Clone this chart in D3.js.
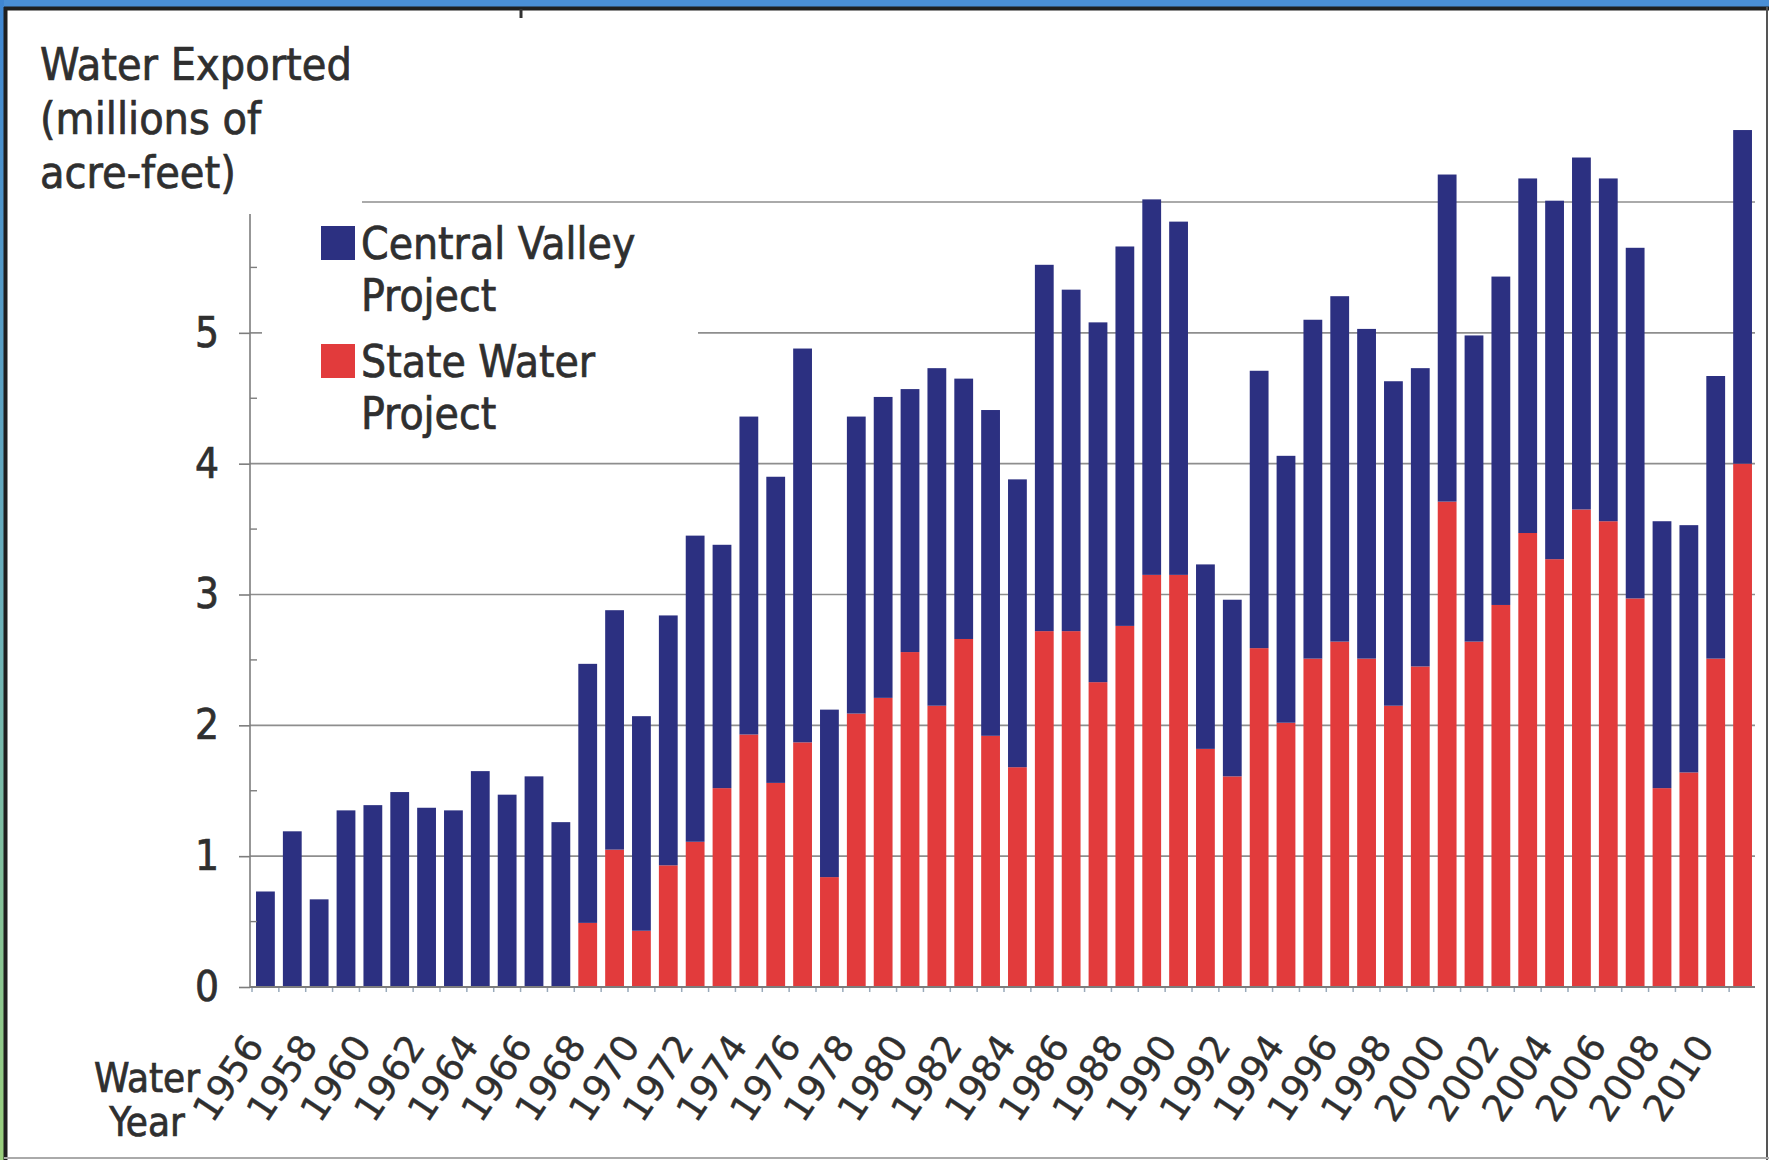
<!DOCTYPE html>
<html>
<head>
<meta charset="utf-8">
<script src="https://cdn.jsdelivr.net/npm/d3@7"></script>
<style>
  html, body { margin: 0; padding: 0; background: #fff; }
  svg { display: block; }
  text { font-family: "DejaVu Sans Condensed", "DejaVu Sans", sans-serif; fill: #2f2f2f; stroke: #2f2f2f; stroke-width: 0.7px; }
</style>
</head>
<body>
<svg id="chart"></svg>
<script>
// water years shown on the x axis
const years = [1956, 1957, 1958, 1959, 1960, 1961, 1962, 1963, 1964, 1965,
  1966, 1967, 1968, 1969, 1970, 1971, 1972, 1973, 1974, 1975,
  1976, 1977, 1978, 1979, 1980, 1981, 1982, 1983, 1984, 1985,
  1986, 1987, 1988, 1989, 1990, 1991, 1992, 1993, 1994, 1995,
  1996, 1997, 1998, 1999, 2000, 2001, 2002, 2003, 2004, 2005,
  2006, 2007, 2008, 2009, 2010, 2011];

// Central Valley Project exports (millions of acre-feet)
const cvpValues = [0.73, 1.19, 0.67, 1.35, 1.39, 1.49, 1.37, 1.35, 1.65, 1.47,
  1.61, 1.26, 1.98, 1.83, 1.64, 1.91, 2.34, 1.86, 2.43, 2.34,
  3.01, 1.28, 2.27, 2.30, 2.01, 2.58, 1.99, 2.49, 2.20, 2.80,
  2.61, 2.75, 2.90, 2.87, 2.70, 1.41, 1.35, 2.12, 2.04, 2.59,
  2.64, 2.52, 2.48, 2.28, 2.50, 2.34, 2.51, 2.71, 2.74, 2.69,
  2.62, 2.68, 2.04, 1.89, 2.16, 2.55];

// State Water Project exports (millions of acre-feet)
const swpValues = [0, 0, 0, 0, 0, 0, 0, 0, 0, 0,
  0, 0, 0.49, 1.05, 0.43, 0.93, 1.11, 1.52, 1.93, 1.56,
  1.87, 0.84, 2.09, 2.21, 2.56, 2.15, 2.66, 1.92, 1.68, 2.72,
  2.72, 2.33, 2.76, 3.15, 3.15, 1.82, 1.61, 2.59, 2.02, 2.51,
  2.64, 2.51, 2.15, 2.45, 3.71, 2.64, 2.92, 3.47, 3.27, 3.65,
  3.56, 2.97, 1.52, 1.64, 2.51, 4.00];

const yearLabels = [1956, 1958, 1960, 1962, 1964, 1966, 1968, 1970, 1972, 1974,
  1976, 1978, 1980, 1982, 1984, 1986, 1988, 1990, 1992, 1994,
  1996, 1998, 2000, 2002, 2004, 2006, 2008, 2010];

const yTickValues = [0, 1, 2, 3, 4, 5];
const gridValues = [1, 2, 3, 4, 5, 6];
const minorTickValues = [0.5, 1.5, 2.5, 3.5, 4.5, 5.5];

const titleLines = ["Water Exported", "(millions of", "acre-feet)"];
const xTitleLines = ["Water", "Year"];
const seriesKeys = ["cvp", "swp"];
const seriesLabels = [["Central Valley", "Project"], ["State Water", "Project"]];
const seriesColors = {cvp: "#2c3081", swp: "#e23b3c"};

const width = 1769, height = 1160;
const plot = {left: 250, right: 1755, top: 202, bottom: 987};

const rows = years.map((y, i) => ({year: y, swp: swpValues[i], cvp: cvpValues[i]}));

const svg = d3.select("#chart").attr("width", width).attr("height", height);

// ---- frame around the picture
const defs = svg.append("defs");
const grad = defs.append("linearGradient").attr("id", "edge").attr("x1", 0).attr("x2", 0).attr("y1", 0).attr("y2", 1);
grad.append("stop").attr("offset", "0%").attr("stop-color", "#3f86d2");
grad.append("stop").attr("offset", "55%").attr("stop-color", "#6fb3b8");
grad.append("stop").attr("offset", "100%").attr("stop-color", "#9bd07c");

svg.append("rect").attr("width", width).attr("height", height).attr("fill", "#fff");
svg.append("rect").attr("width", width).attr("height", 7).attr("fill", "#4a8fd6");
svg.append("rect").attr("width", 4).attr("height", height).attr("fill", "url(#edge)");
svg.append("line").attr("x1", 4).attr("x2", width).attr("y1", 8.5).attr("y2", 8.5)
  .attr("stroke", "#1f1f1f").attr("stroke-width", 4);
svg.append("line").attr("x1", 5.5).attr("x2", 5.5).attr("y1", 7).attr("y2", height)
  .attr("stroke", "#1f1f1f").attr("stroke-width", 4);
svg.append("line").attr("x1", width - 2).attr("x2", width - 2).attr("y1", 7).attr("y2", height)
  .attr("stroke", "#555").attr("stroke-width", 2);
svg.append("line").attr("x1", 4).attr("x2", width).attr("y1", height - 2).attr("y2", height - 2)
  .attr("stroke", "#aaa").attr("stroke-width", 2);
svg.append("line").attr("x1", 521).attr("x2", 521).attr("y1", 9).attr("y2", 18)
  .attr("stroke", "#333").attr("stroke-width", 3);

// ---- scales
const xScale = d3.scaleBand()
  .domain(years)
  .range([plot.left + 2, plot.right + 1])
  .paddingInner(0.3)
  .paddingOuter(0.15);

const yScale = d3.scaleLinear()
  .domain([0, 6])
  .range([plot.bottom, plot.top]);

const container = svg.append("g");

// gridlines behind the bars
container.append("g")
  .selectAll("line")
  .data(gridValues)
  .join("line")
    .attr("x1", plot.left)
    .attr("x2", plot.right)
    .attr("y1", d => yScale(d))
    .attr("y2", d => yScale(d))
    .attr("stroke", "#8e8e8e")
    .attr("stroke-width", 1.6);

// stacked bars: State Water Project at the bottom
const stacked = d3.stack().keys(["swp", "cvp"])(rows);

container.append("g")
  .selectAll("g")
  .data(stacked)
  .join("g")
    .attr("fill", d => seriesColors[d.key])
  .selectAll("rect")
  .data(d => d.filter(p => p[1] > p[0]))
  .join("rect")
    .attr("x", d => xScale(d.data.year))
    .attr("y", d => yScale(d[1]))
    .attr("width", xScale.bandwidth())
    .attr("height", d => yScale(d[0]) - yScale(d[1]));

// x baseline and small category ticks
const xAxis = svg.append("g").attr("transform", `translate(0, ${plot.bottom})`);
xAxis.append("line")
  .attr("x1", plot.left).attr("x2", plot.right)
  .attr("stroke", "#7d7d7d").attr("stroke-width", 2);
xAxis.selectAll(".xtick")
  .data(years)
  .join("line")
    .attr("class", "xtick")
    .attr("x1", d => xScale(d) - xScale.step() * xScale.paddingInner() / 2)
    .attr("x2", d => xScale(d) - xScale.step() * xScale.paddingInner() / 2)
    .attr("y1", 1).attr("y2", 5)
    .attr("stroke", "#9ab").attr("stroke-width", 1.5);

xAxis.selectAll(".ylab")
  .data(yearLabels)
  .join("text")
    .attr("class", "ylab")
    .attr("transform", d => `translate(${xScale(d) + xScale.bandwidth() / 2 - 11}, 52) rotate(-56)`)
    .attr("text-anchor", "end")
    .attr("dy", "0.35em")
    .attr("font-size", 37)
    .style("font-family", '"DejaVu Sans", sans-serif')
    .style("stroke-width", "0.4px")
    .text(d => d);

svg.append("g")
  .selectAll("text")
  .data(xTitleLines)
  .join("text")
    .attr("x", 147)
    .attr("y", (d, i) => 1092 + i * 44)
    .attr("text-anchor", "middle")
    .attr("font-size", 40)
    .text(d => d);

// y axis
const yAxis = svg.append("g").attr("transform", `translate(${plot.left}, 0)`);
yAxis.call(d3.axisLeft(yScale).tickValues(yTickValues).tickSize(11).tickPadding(20).tickFormat(d3.format("d")));
yAxis.select(".domain").remove();
yAxis.selectAll(".tick line").attr("stroke", "#7d7d7d").attr("stroke-width", 1.6);
yAxis.selectAll(".tick text").attr("font-size", 42).attr("fill", "#2f2f2f")
  .style("font-family", '"DejaVu Sans Condensed", "DejaVu Sans", sans-serif');
yAxis.append("line")
  .attr("y1", plot.top).attr("y2", plot.bottom)
  .attr("stroke", "#7d7d7d").attr("stroke-width", 1.6);
yAxis.selectAll(".minor")
  .data(minorTickValues)
  .join("line")
    .attr("class", "minor")
    .attr("x1", 0).attr("x2", 7)
    .attr("y1", d => yScale(d)).attr("y2", d => yScale(d))
    .attr("stroke", "#7d7d7d").attr("stroke-width", 1.4);

// title text box (white fill, hides the top of the axis)
const title = svg.append("g");
title.append("rect")
  .attr("x", 26).attr("y", 14).attr("width", 336).attr("height", 200)
  .attr("fill", "#fff");
title.selectAll("text")
  .data(titleLines)
  .join("text")
    .attr("x", 40)
    .attr("y", (d, i) => 80 + i * 54)
    .attr("font-size", 44.5)
    .text(d => d);

// legend box
const legend = svg.append("g");
legend.append("rect")
  .attr("x", 262).attr("y", 214).attr("width", 436).attr("height", 230)
  .attr("fill", "#fff");
const items = legend.selectAll(".item")
  .data(seriesKeys)
  .join("g")
    .attr("class", "item")
    .attr("transform", (d, i) => `translate(321, ${226 + i * 118})`);
items.append("rect")
  .attr("width", 34).attr("height", 34)
  .attr("fill", d => seriesColors[d]);
items.selectAll("text")
  .data((d, i) => seriesLabels[i])
  .join("text")
    .attr("x", 40)
    .attr("y", (d, i) => 33 + i * 52)
    .attr("font-size", 44)
    .text(d => d);
</script>
</body>
</html>
